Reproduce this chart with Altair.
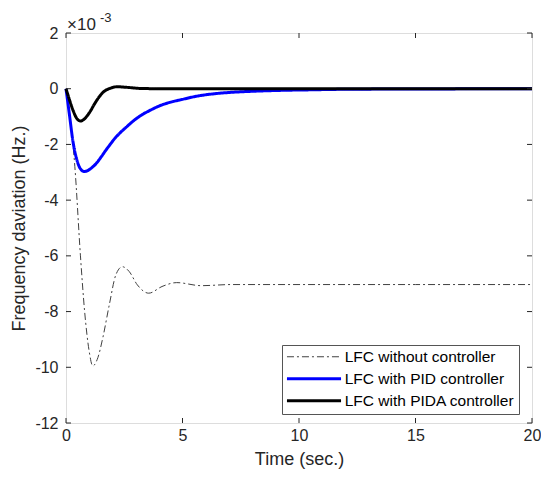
import altair as alt
import pandas as pd

# ---- data (values in units of 1e-3 Hz) ----
t_noctl = [0, 0.2, 0.38, 0.62, 0.8, 0.99, 1.15, 1.37, 1.58, 1.86, 2.14, 2.42, 2.71, 3.06, 3.55, 4.12, 4.75, 5.8, 7.1, 10, 15, 20]
v_noctl = [0, -1.2, -2.8, -6.0, -8.0, -9.4, -9.95, -9.65, -8.94, -7.75, -6.68, -6.39, -6.56, -7.04, -7.34, -7.1, -6.96, -7.07, -7.03, -7.03, -7.03, -7.03]

t_pid = [0, 0.15, 0.3, 0.45, 0.6, 0.78, 0.95, 1.1, 1.3, 1.5, 1.7, 1.86, 2.1, 2.35, 2.56, 2.9, 3.27, 3.6, 3.97, 4.5, 4.96, 5.6, 6.37, 7.1, 7.78, 9.2, 10.5, 12, 15, 20]
v_pid = [0, -0.95, -1.9, -2.5, -2.85, -2.97, -2.93, -2.84, -2.68, -2.46, -2.22, -2.04, -1.78, -1.56, -1.40, -1.15, -0.93, -0.78, -0.63, -0.48, -0.39, -0.27, -0.18, -0.13, -0.1, -0.06, -0.04, -0.02, -0.01, 0]

t_pida = [0, 0.15, 0.3, 0.45, 0.62, 0.77, 0.9, 1.05, 1.2, 1.4, 1.6, 1.85, 2.2, 2.6, 3.2, 4, 6, 10, 20]
v_pida = [0, -0.4, -0.77, -1.05, -1.16, -1.1, -0.98, -0.8, -0.58, -0.32, -0.12, 0.0, 0.07, 0.05, 0.01, 0, 0, 0, 0]

series_names = ["LFC without controller", "LFC with PID controller", "LFC with PIDA controller"]
series_colors = ["#404040", "#0000ff", "#000000"]
series_widths = [1, 3, 3]
series_dashes = [[7, 3, 2, 3], [1, 0], [1, 0]]

x_ticks = [0, 5, 10, 15, 20]
y_ticks = [2, 0, -2, -4, -6, -8, -10, -12]

rows = []
for name, ts, vs in zip(series_names, [t_noctl, t_pid, t_pida], [v_noctl, v_pid, v_pida]):
    for i, (t, v) in enumerate(zip(ts, vs)):
        rows.append({"series": name, "t": t, "v": v, "order": i})
df = pd.DataFrame(rows)

W, H = 466, 390
FONT = "Liberation Sans"
TXT = "#262626"

xscale = alt.Scale(domain=[0, 20], nice=False)
yscale = alt.Scale(domain=[-12, 2], nice=False)

leg = dict(title=None, orient="none", legendX=216, legendY=312)

lines = alt.Chart(df).mark_line(interpolate="monotone").encode(
    x=alt.X("t:Q", scale=xscale,
            axis=alt.Axis(values=x_ticks, ticks=False, domain=False, grid=False, labelFlush=False,
                          title="Time (sec.)", labelFontSize=16, titleFontSize=18,
                          labelPadding=4, titlePadding=7, titleFontWeight="normal",
                          labelFont=FONT, titleFont=FONT, labelColor=TXT, titleColor=TXT)),
    y=alt.Y("v:Q", scale=yscale,
            axis=alt.Axis(values=y_ticks, ticks=False, domain=False, grid=False, labelFlush=False,
                          title="Frequency daviation (Hz.)", labelFontSize=16, titleFontSize=18,
                          labelPadding=8, titlePadding=6, titleFontWeight="normal",
                          labelExpr="'' + datum.value",
                          labelFont=FONT, titleFont=FONT, labelColor=TXT, titleColor=TXT)),
    color=alt.Color("series:N", scale=alt.Scale(domain=series_names, range=series_colors),
                    legend=alt.Legend(**leg)),
    strokeDash=alt.StrokeDash("series:N", scale=alt.Scale(domain=series_names, range=series_dashes),
                              legend=alt.Legend(**leg)),
    strokeWidth=alt.StrokeWidth("series:N",
                                scale=alt.Scale(type="ordinal", domain=series_names, range=series_widths),
                                legend=alt.Legend(**leg)),
    order="order:Q",
)

xt = pd.DataFrame({"x": x_ticks})
yt = pd.DataFrame({"y": y_ticks})

xtick_bot = alt.Chart(xt).mark_rule(color=TXT, strokeWidth=1).encode(
    x=alt.X("x:Q", scale=xscale), y=alt.value(H - 5), y2=alt.value(H))
xtick_top = alt.Chart(xt).mark_rule(color=TXT, strokeWidth=1).encode(
    x=alt.X("x:Q", scale=xscale), y=alt.value(0), y2=alt.value(5))
ytick_left = alt.Chart(yt).mark_rule(color=TXT, strokeWidth=1).encode(
    y=alt.Y("y:Q", scale=yscale), x=alt.value(0), x2=alt.value(5))
ytick_right = alt.Chart(yt).mark_rule(color=TXT, strokeWidth=1).encode(
    y=alt.Y("y:Q", scale=yscale), x=alt.value(W - 5), x2=alt.value(W))

exp_df = pd.DataFrame({"x": [0], "y": [2]})
exp_base = alt.Chart(exp_df).mark_text(align="left", baseline="alphabetic", font=FONT,
                                        fontSize=17, color=TXT, dx=1, dy=-3).encode(
    x=alt.X("x:Q", scale=xscale), y=alt.Y("y:Q", scale=yscale), text=alt.value("×10"))
exp_sup = alt.Chart(exp_df).mark_text(align="left", baseline="alphabetic", font=FONT,
                                       fontSize=13, color=TXT, dx=34, dy=-11).encode(
    x=alt.X("x:Q", scale=xscale), y=alt.Y("y:Q", scale=yscale), text=alt.value("-3"))

chart = alt.layer(lines, xtick_bot, xtick_top, ytick_left, ytick_right, exp_base, exp_sup).properties(
    width=W, height=H,
    autosize=alt.AutoSizeParams(type="none"),
    padding={"left": 58, "top": 25, "right": 9, "bottom": 47},
).configure_view(stroke=TXT, strokeWidth=1).configure(background="white").configure_legend(
    symbolType="M-5,0H5", symbolSize=117, labelFontSize=15.5, labelFont=FONT,
    labelColor="#000000", fillColor="white", strokeColor="#555555", padding=4,
    rowPadding=5, labelOffset=23, symbolOffset=20.25, labelLimit=400,
)

chart.save("out.html", embed_options={"renderer": "svg", "actions": False})
